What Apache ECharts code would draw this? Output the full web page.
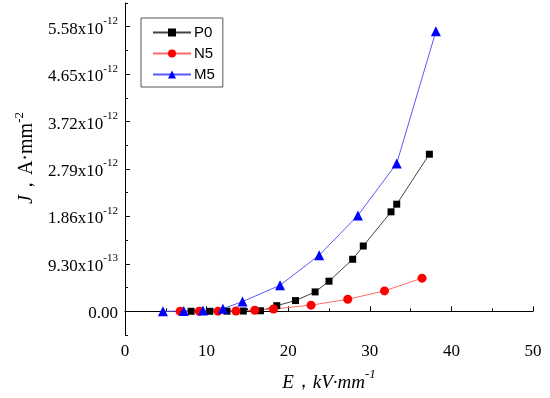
<!DOCTYPE html>
<html>
<head>
<meta charset="utf-8">
<script src="https://cdn.jsdelivr.net/npm/echarts@6/dist/echarts.min.js"></script>
<style>html,body{margin:0;padding:0;background:#fff}#c{width:550px;height:398px}</style>
</head>
<body>
<div id="c"></div>
<script>
// Field strength E (kV/mm) and current density J (units of 1e-12 A/mm^2)
const p0E = [8.1, 10.4, 12.5, 14.5, 16.6, 18.6, 20.9, 23.3, 25.0, 27.9, 29.2, 32.6, 33.3, 37.3];
const p0J = [0, 0, 0.002, 0.005, 0.01, 0.11, 0.21, 0.38, 0.59, 1.02, 1.28, 1.95, 2.10, 3.08];
const n5E = [6.75, 9.1, 11.4, 13.6, 15.9, 18.2, 22.8, 27.3, 31.8, 36.4];
const n5J = [0, 0, 0.003, 0.005, 0.02, 0.045, 0.12, 0.235, 0.40, 0.65];
const m5E = [4.65, 7.2, 9.55, 12.0, 14.4, 19.0, 23.8, 28.55, 33.3, 38.1];
const m5J = [0, 0.005, 0.015, 0.05, 0.19, 0.51, 1.10, 1.88, 2.90, 5.49];
const seriesNames = ['P0', 'N5', 'M5'];
const yTickValues = [0, 0.93, 1.86, 2.79, 3.72, 4.65, 5.58];
const yTickMantissa = ['0.00', '9.30x10', '1.86x10', '2.79x10', '3.72x10', '4.65x10', '5.58x10'];
const yTickExponent = ['', '-13', '-12', '-12', '-12', '-12', '-12'];
const xTicks = [0, 10, 20, 30, 40, 50];

const serif = '"Liberation Serif","Times New Roman",serif';
const pair = (xs, ys) => xs.map((x, i) => [x, ys[i]]);

const chart = echarts.init(document.getElementById('c'), null, {renderer: 'canvas'});
const yStep = 0.93;
const yMin = -yStep / 2, yMax = yStep * 6.5;
const option = {
  animation: false,
  backgroundColor: '#fff',
  grid: {left: 125, right: 17, top: 3, bottom: 63, containLabel: false},
  legend: {
    orient: 'vertical',
    left: 141, top: 18,
    padding: [7, 8, 5, 11],
    itemGap: 6,
    itemWidth: 38,
    itemHeight: 10,
    borderColor: '#555',
    borderWidth: 1,
    data: seriesNames,
    textStyle: {fontFamily: '"Liberation Sans",Arial,sans-serif', fontSize: 15, color: '#000', lineHeight: 14, padding: [0, 0, 0, -2]}
  },
  xAxis: {
    type: 'value', min: xTicks[0], max: xTicks[xTicks.length - 1], interval: 10,
    axisLine: {lineStyle: {color: '#000', width: 1}},
    axisTick: {inside: true, length: 5, lineStyle: {color: '#000'}},
    minorTick: {show: true, splitNumber: 2, length: 3, lineStyle: {color: '#000'}},
    splitLine: {show: false},
    axisLabel: {color: '#000', fontFamily: serif, fontSize: 17, margin: 8},
    name: '{i|E}{n|，}{i|kV·mm}{sup|-1}',
    nameLocation: 'middle', nameGap: 33,
    nameTextStyle: {
      rich: {
        i: {fontFamily: serif, fontStyle: 'italic', fontSize: 19, color: '#000', lineHeight: 24, verticalAlign: 'bottom'},
        n: {fontFamily: serif, fontSize: 19, color: '#000', lineHeight: 24, verticalAlign: 'bottom'},
        sup: {fontFamily: serif, fontStyle: 'italic', fontSize: 13, color: '#000', lineHeight: 24, verticalAlign: 'top'}
      }
    }
  },
  yAxis: [{
    type: 'value', min: yMin, max: yMax,
    axisLine: {show: true, lineStyle: {color: '#000', width: 1}},
    axisTick: {show: true, inside: true, length: 5, customValues: yTickValues, lineStyle: {color: '#000'}},
    splitLine: {show: false},
    axisLabel: {
      customValues: yTickValues, margin: 7, color: '#000',
      formatter: function (v) {
        let idx = 0, best = 1e9;
        yTickValues.forEach((t, i) => { if (Math.abs(t - v) < best) { best = Math.abs(t - v); idx = i; } });
        return yTickExponent[idx] ? '{b|' + yTickMantissa[idx] + '}{sup|' + yTickExponent[idx] + '}' : '{b|' + yTickMantissa[idx] + '}';
      },
      rich: {
        b: {fontFamily: serif, fontSize: 17, color: '#000', lineHeight: 22, verticalAlign: 'bottom'},
        sup: {fontFamily: serif, fontSize: 11, color: '#000', lineHeight: 22, verticalAlign: 'top'}
      }
    },
    name: '{i|J}{n|，}{n|A·mm}{sup|-2}',
    nameLocation: 'middle', nameGap: 86, nameRotate: 90,
    nameTextStyle: {
      padding: [0, 0, 0, 22],
      rich: {
        i: {fontFamily: serif, fontStyle: 'italic', fontSize: 20, color: '#000', lineHeight: 24, verticalAlign: 'bottom'},
        n: {fontFamily: serif, fontSize: 20, color: '#000', lineHeight: 24, verticalAlign: 'bottom'},
        sup: {fontFamily: serif, fontSize: 13, color: '#000', lineHeight: 24, verticalAlign: 'top'}
      }
    }
  }, {
    // minor ticks half-way between the labelled ticks
    type: 'value', min: yMin, max: yMax, interval: yStep, position: 'left', offset: 0,
    axisLine: {show: false},
    axisTick: {show: true, inside: true, length: 3, lineStyle: {color: '#000', width: 1}},
    axisLabel: {show: false},
    splitLine: {show: false}
  }],
  series: [
    {name: seriesNames[0], type: 'line', data: pair(p0E, p0J), symbol: 'rect', symbolSize: 7,
     itemStyle: {color: '#000'}, lineStyle: {color: '#444', width: 1}},
    {name: seriesNames[1], type: 'line', data: pair(n5E, n5J), symbol: 'circle', symbolSize: 9,
     itemStyle: {color: '#ff0000'}, lineStyle: {color: '#ff6a6a', width: 1}},
    {name: seriesNames[2], type: 'line', data: pair(m5E, m5J), symbol: 'triangle', symbolSize: 10,
     itemStyle: {color: '#0000ff'}, lineStyle: {color: '#5a5aff', width: 1}}
  ]
};
chart.setOption(option);
</script>
</body>
</html>
